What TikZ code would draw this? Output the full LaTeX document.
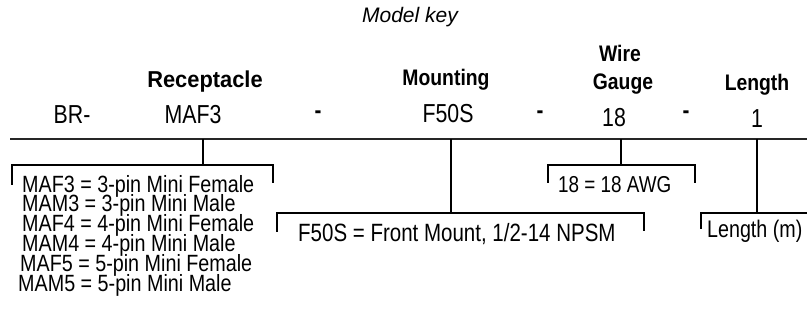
\documentclass[tikz,border=0pt]{standalone}
\usepackage{fontspec}
\setmainfont{Liberation Sans}
\newfontfamily\narfont[FakeStretch=0.82]{Liberation Sans}
\newfontfamily\nardfont[FakeStretch=0.84]{Liberation Sans}
\newfontfamily\narbfont[FakeStretch=0.86]{Liberation Sans}
\newfontfamily\narbwfont[FakeStretch=0.95]{Liberation Sans}
\begin{document}
\begin{tikzpicture}[x=1pt,y=-1pt,
  valtxt/.style={inner sep=0pt,anchor=base,font=\narfont\fontsize{26}{30}\selectfont},
  headtxt/.style={inner sep=0pt,anchor=base,font=\narbfont\bfseries\fontsize{22.5}{26}\selectfont},
  desctxt/.style={inner sep=0pt,anchor=base west,font=\nardfont\fontsize{23.5}{28}\selectfont},
  dashtxt/.style={inner sep=0pt,anchor=center,font=\narbfont\bfseries\fontsize{24}{28}\selectfont},
  mainline/.style={line width=2pt,draw=black!85},
  conn/.style={line width=1.6pt,draw=black}]
\useasboundingbox (0,0) rectangle (807,320);
% title
\node[inner sep=0pt,anchor=base,font=\itshape\fontsize{21}{25}\selectfont] (title) at (410,23) {Model key};
% headers
\node[headtxt,font=\narbwfont\bfseries\fontsize{23}{26}\selectfont] (hrec) at (205,88) {Receptacle};
\node[headtxt] (hmou) at (446,86) {Mounting};
\node[headtxt] (hwire) at (620,62) {Wire};
\node[headtxt] (hgau) at (623,90) {Gauge};
\node[headtxt] (hlen) at (757,91) {Length};
% values
\node[valtxt] (br) at (72,124) {BR-};
\node[valtxt] (vrec) at (193,124) {MAF3};
\node[dashtxt] (d1) at (318,115) {-};
\node[valtxt] (vmou) at (448,123) {F50S};
\node[dashtxt] (d2) at (540,115) {-};
\node[valtxt] (vwire) at (614,127) {18};
\node[dashtxt] (d3) at (686,115) {-};
\node[valtxt] (vlen) at (757,128) {1};
% main line
\coordinate (ml0) at (10,139);
\coordinate (ml1) at (807,139);
\draw[mainline] (ml0) -- (ml1);
% receptacle bracket
\coordinate (r0) at (203,139);
\coordinate (r1) at (203,165);
\coordinate (rL) at (12,165);
\coordinate (rLb) at (12,185);
\coordinate (rR) at (273,165);
\coordinate (rRb) at (273,183);
\draw[conn] (r0) -- (r1);
\draw[conn] (rLb) -- (rL) -- (rR) -- (rRb);
% mounting bracket
\coordinate (m0) at (451,139);
\coordinate (m1) at (451,213);
\coordinate (mL) at (277,213);
\coordinate (mLb) at (277,232);
\coordinate (mR) at (644,213);
\coordinate (mRb) at (644,231);
\draw[conn] (m0) -- (m1);
\draw[conn] (mLb) -- (mL) -- (mR) -- (mRb);
% wire bracket
\coordinate (w0) at (621,139);
\coordinate (w1) at (621,165);
\coordinate (wL) at (548,165);
\coordinate (wLb) at (548,183);
\coordinate (wR) at (695,165);
\coordinate (wRb) at (695,183);
\draw[conn] (w0) -- (w1);
\draw[conn] (wLb) -- (wL) -- (wR) -- (wRb);
% length bracket
\coordinate (l0) at (757,139);
\coordinate (l1) at (757,213);
\coordinate (lL) at (701,213);
\coordinate (lLb) at (701,229);
\coordinate (lR) at (808,213);
\draw[conn] (l0) -- (l1);
\draw[conn] (lLb) -- (lL) -- (lR);
% descriptions
\node[desctxt] (t1) at (22,193) {MAF3 = 3-pin Mini Female};
\node[desctxt] (t2) at (22,212) {MAM3 = 3-pin Mini Male};
\node[desctxt] (t3) at (22,232) {MAF4 = 4-pin Mini Female};
\node[desctxt] (t4) at (22,252) {MAM4 = 4-pin Mini Male};
\node[desctxt] (t5) at (20,272) {MAF5 = 5-pin Mini Female};
\node[desctxt] (t6) at (18,292) {MAM5 = 5-pin Mini Male};
\node[desctxt,font=\narfont\fontsize{25}{28}\selectfont] (tm) at (298,242) {F50S = Front Mount, 1/2-14 NPSM};
\node[desctxt,font=\narfont\fontsize{23}{28}\selectfont] (tw) at (558,193) {18 = 18 AWG};
\node[desctxt,font=\narfont\fontsize{24}{28}\selectfont] (tl) at (707,238) {Length (m)};
\end{tikzpicture}
\end{document}
